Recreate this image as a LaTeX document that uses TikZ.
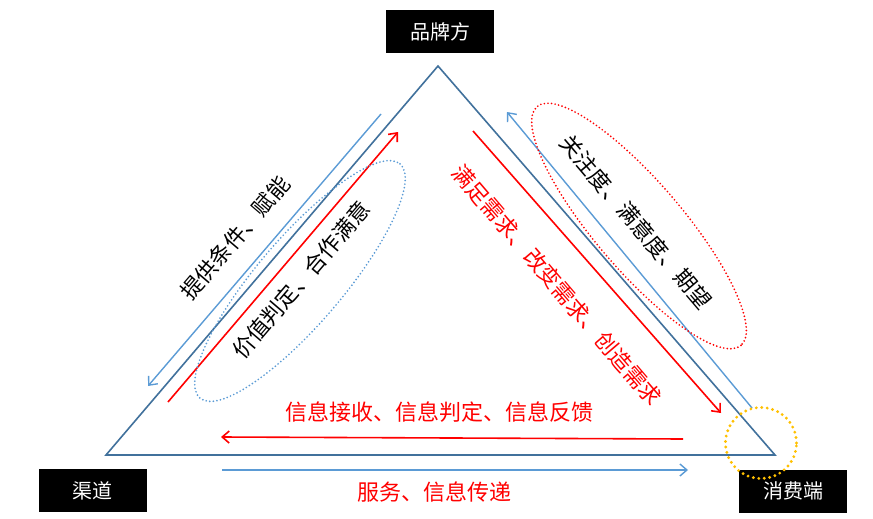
\documentclass[tikz,border=0pt]{standalone}
\usepackage{fontspec}
\setmainfont{Noto Sans CJK SC}
\usetikzlibrary{arrows.meta,calc}
\definecolor{tri}{HTML}{41719C}
\definecolor{lblue}{HTML}{5B9BD5}
\definecolor{orng}{HTML}{FFC000}
\begin{document}
\begin{tikzpicture}[x=1pt,y=-1pt,
  lbl/.style={font=\fontsize{22}{22}\selectfont, inner sep=0pt},
  box/.style={fill=black, text=white, minimum width=108pt, minimum height=43pt, inner sep=0pt, font=\fontsize{20}{20}\selectfont},
  redarr/.style={red, line width=1.6pt, -{Straight Barb[length=7pt,width=12pt]}},
  bluearr/.style={lblue, line width=1.4pt, -{Straight Barb[length=7pt,width=12pt]}},
  dotell/.style={line width=1.9pt, dash pattern=on 0pt off 3.6pt, line cap=round},
]
\useasboundingbox (0,0) rectangle (873,519);
% triangle
\coordinate (A) at (438,66);
\coordinate (B) at (106,455);
\coordinate (C) at (775,455);
\draw[tri, line width=1.6pt, line join=miter] (A) -- (B) -- (C) -- cycle;
% boxes
\node[box] (brand) at (440,31.5) {品牌方};
\node[box] (chan) at (92.5,490.5) {渠道};
\node[box] (cons) at (793,491) {消费端};
% left side
\coordinate (lb1) at (381,114); \coordinate (lb2) at (148,386);
\draw[bluearr] (lb1) -- (lb2);
\coordinate (lr1) at (168,402); \coordinate (lr2) at (398,132);
\draw[redarr] (lr1) -- (lr2);
\draw[lblue, dotell, rotate around={49.5:(300,281)}] (300,281) ellipse [x radius=154, y radius=43];
\node[lbl, rotate=49.5] (t1) at (235,238) {提供条件、赋能};
\node[lbl, rotate=49.5] (t2) at (301,280) {价值判定、合作满意};
% right side
\coordinate (rr1) at (473,131); \coordinate (rr2) at (721,413);
\draw[redarr] (rr1) -- (rr2);
\coordinate (rb1) at (752,408); \coordinate (rb2) at (507,112);
\draw[bluearr] (rb1) -- (rb2);
\draw[red, dotell, rotate around={-49.5:(639,226)}] (639,226) ellipse [x radius=157, y radius=44];
\node[lbl, rotate=-49.5] (t3) at (636,222) {关注度、满意度、期望};
\node[lbl, rotate=-49.5, text=red] (t4) at (557,285) {满足需求、改变需求、创造需求};
% bottom
\coordinate (br1) at (683,439); \coordinate (br2) at (221,437);
\draw[redarr] (br1) -- (br2);
\coordinate (bb1) at (222,470); \coordinate (bb2) at (688,470);
\draw[bluearr] (bb1) -- (bb2);
\node[lbl, text=red] (t5) at (439,412) {信息接收、信息判定、信息反馈};
\node[lbl, text=red] (t6) at (434,492) {服务、信息传递};
% orange circle
\node[draw=orng, circle, line width=3.2pt, dash pattern=on 0pt off 5.5pt, line cap=round, minimum size=71pt, inner sep=0pt] (oc) at (761,443) {};
\end{tikzpicture}
\end{document}
